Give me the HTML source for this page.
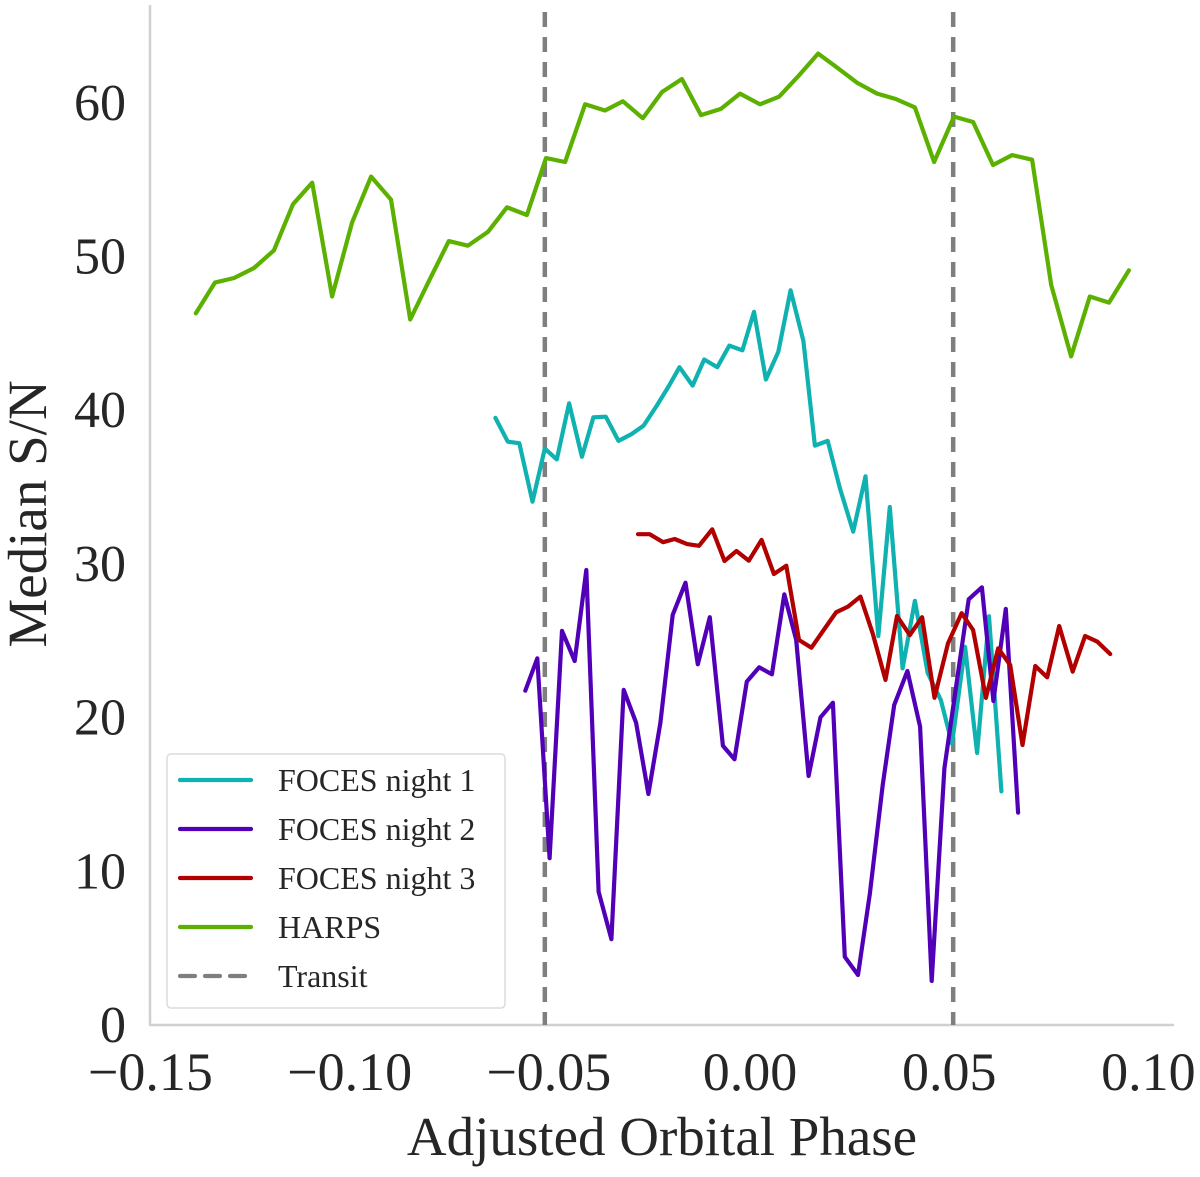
<!DOCTYPE html>
<html><head><meta charset="utf-8"><style>
html,body{margin:0;padding:0;background:#fff;}
svg text{font-family:"Liberation Serif","DejaVu Serif",serif;fill:#262626;}
</style></head><body>
<svg id="chart" width="1200" height="1172" viewBox="0 0 1200 1172" xmlns="http://www.w3.org/2000/svg">
<g id="spines">
<line x1="150" y1="5" x2="150" y2="1025" stroke="#d0d0d0" stroke-width="2.5"/>
<line x1="149" y1="1025" x2="1174" y2="1025" stroke="#d0d0d0" stroke-width="2.5"/>
</g>
<g id="ticks"></g>
<g id="transits"></g>
<g id="series"></g>
<text x="662" y="1155" font-size="55" text-anchor="middle">Adjusted Orbital Phase</text>
<text transform="translate(46,514) rotate(-90)" font-size="55" text-anchor="middle">Median S/N</text>
<g id="legend">
<rect x="167" y="754" width="338" height="254" rx="4" fill="#fff" stroke="#dcdcdc" stroke-width="1.5"/>
</g>
</svg>
<script>
const xTicks = [-0.15, -0.10, -0.05, 0.00, 0.05, 0.10];
const xTickLabels = ["\u22120.15", "\u22120.10", "\u22120.05", "0.00", "0.05", "0.10"];
const yTicks = [0, 10, 20, 30, 40, 50, 60];
const yTickLabels = ["0", "10", "20", "30", "40", "50", "60"];
const transitPhases = [-0.0515, 0.0510];

const harpsPhase = [-0.1391,-0.1343,-0.1295,-0.1245,-0.1195,-0.1147,-0.1099,-0.1049,-0.0999,-0.0951,-0.0901,-0.0853,-0.0806,-0.0756,-0.0708,-0.0658,-0.0610,-0.0560,-0.0512,-0.0464,-0.0414,-0.0364,-0.0319,-0.0269,-0.0221,-0.0171,-0.0123,-0.0073,-0.0025,0.0025,0.0073,0.0120,0.0171,0.0218,0.0269,0.0319,0.0366,0.0414,0.0462,0.0512,0.0560,0.0610,0.0658,0.0708,0.0756,0.0806,0.0853,0.0901,0.0951];
const harpsSN = [46.3,48.3,48.6,49.25,50.4,53.4,54.8,47.4,52.2,55.2,53.7,45.9,48.4,51.0,50.7,51.6,53.2,52.7,56.4,56.15,59.9,59.5,60.1,59.0,60.7,61.55,59.2,59.6,60.6,59.9,60.4,61.7,63.2,62.3,61.3,60.6,60.25,59.7,56.15,59.1,58.75,55.95,56.6,56.3,48.15,43.5,47.4,47.0,49.1];

const n1Phase = [-0.0639,-0.0608,-0.0579,-0.0546,-0.0515,-0.0485,-0.0454,-0.0422,-0.0393,-0.0362,-0.0330,-0.0297,-0.0267,-0.0234,-0.0203,-0.0177,-0.0144,-0.0115,-0.0082,-0.0052,-0.0019,0.0010,0.0040,0.0071,0.0102,0.0134,0.0163,0.0195,0.0226,0.0259,0.0290,0.0322,0.0351,0.0383,0.0414,0.0446,0.0479,0.0507,0.0540,0.0570,0.0600,0.0631];
const n1SN = [39.5,37.95,37.85,34.05,37.5,36.8,40.45,36.97,39.54,39.58,38.0,38.45,39.0,40.3,41.6,42.8,41.6,43.3,42.8,44.2,43.9,46.4,42.0,43.8,47.8,44.5,37.7,38.0,34.9,32.1,35.7,25.3,33.7,23.2,27.6,22.9,21.15,18.3,24.6,17.7,26.6,15.2];

const n2Phase = [-0.0564,-0.0534,-0.0503,-0.0472,-0.0440,-0.0411,-0.0380,-0.0348,-0.0317,-0.0286,-0.0255,-0.0225,-0.0194,-0.0162,-0.0131,-0.0101,-0.0068,-0.0039,-0.0008,0.0023,0.0055,0.0086,0.0116,0.0147,0.0177,0.0208,0.0238,0.0271,0.0301,0.0333,0.0362,0.0395,0.0427,0.0456,0.0488,0.0519,0.0549,0.0582,0.0611,0.0642,0.0673];
const n2SN = [21.75,23.86,10.85,25.65,23.68,29.6,8.67,5.58,21.8,19.67,15.03,19.67,26.68,28.78,23.47,26.53,18.17,17.29,22.34,23.27,22.82,28.02,25.05,16.2,20.02,20.97,4.44,3.25,8.57,15.61,20.82,23.03,19.41,2.86,16.7,22.34,27.7,28.48,21.08,27.07,13.81];

const n3Phase = [-0.0281,-0.0252,-0.0218,-0.0189,-0.0158,-0.0128,-0.0095,-0.0064,-0.0034,-0.0003,0.0029,0.0060,0.0091,0.0123,0.0154,0.0185,0.0216,0.0246,0.0277,0.0308,0.0340,0.0369,0.0401,0.0432,0.0463,0.0497,0.0531,0.0560,0.0592,0.0623,0.0653,0.0684,0.0716,0.0746,0.0776,0.0810,0.0841,0.0872,0.0904];
const n3SN = [31.93,31.93,31.41,31.62,31.29,31.18,32.25,30.19,30.84,30.21,31.56,29.34,29.88,25.05,24.55,25.7,26.85,27.22,27.87,25.48,22.45,26.61,25.37,26.53,21.29,24.83,26.79,25.7,21.28,24.51,23.42,18.22,23.36,22.62,25.96,22.99,25.31,24.94,24.14];

const seriesNames = ["FOCES night 1","FOCES night 2","FOCES night 3","HARPS"];

const NS = "http://www.w3.org/2000/svg";
function xs(v){ return 750 + v * 3984; }
function ys(v){ return 1025 - v * 15.37; }
function mk(tag, attrs, parent){
  const e = document.createElementNS(NS, tag);
  for (const k in attrs) e.setAttribute(k, attrs[k]);
  parent.appendChild(e);
  return e;
}
const ticksG = document.getElementById('ticks');
xTicks.forEach((t, i) => {
  const tx = mk('text', {x: xs(t) - (xTickLabels[i].startsWith('\u2212') ? 2 : 0), y: 1090, 'font-size': 54, 'text-anchor': 'middle'}, ticksG);
  
  
  tx.textContent = xTickLabels[i];
});
yTicks.forEach((t, i) => {
  const tx = mk('text', {x: 126, y: ys(t) + 17, 'font-size': 52, 'text-anchor': 'end'}, ticksG);
  
  
  tx.textContent = yTickLabels[i];
});
const trG = document.getElementById('transits');
transitPhases.forEach(p => {
  const l = mk('line', {x1: xs(p), x2: xs(p), y1: 12, y2: 1025, stroke: '#7f7f7f', 'stroke-width': 4.5, 'stroke-dasharray': '15 10'}, trG);
  
  
});
const serG = document.getElementById('series');
function line(xsArr, ysArr, color, name){
  const d = xsArr.map((v, i) => (i ? 'L' : 'M') + xs(v).toFixed(1) + ' ' + ys(ysArr[i]).toFixed(1)).join(' ');
  const p = mk('path', {d: d, fill: 'none', stroke: color, 'stroke-width': 4.2, 'stroke-linejoin': 'round', 'stroke-linecap': 'round'}, serG);
  
  
}
const colors = ['#0fb2b0', '#5200b8', '#b20000', '#5bb000'];
line(harpsPhase, harpsSN, colors[3], 'harps-line');
line(n1Phase, n1SN, colors[0], 'foces-night-1-line');
line(n2Phase, n2SN, colors[1], 'foces-night-2-line');
line(n3Phase, n3SN, colors[2], 'foces-night-3-line');

const lg = document.getElementById('legend');
const labels = seriesNames.concat(['Transit']);
const lcolors = colors.concat(['#7f7f7f']);
labels.forEach((lab, i) => {
  const y = 780 + i * 49;
  const ln = mk('line', {x1: 180, x2: 251, y1: y, y2: y, stroke: lcolors[i], 'stroke-width': 4.2, 'stroke-linecap': 'round'}, lg);
  if (i === 4) ln.setAttribute('stroke-dasharray', '15 10');
  
  
  const tx = mk('text', {x: 278, y: y + 11, 'font-size': 32}, lg);
  
  
  tx.textContent = lab;
});
</script>
</body></html>
